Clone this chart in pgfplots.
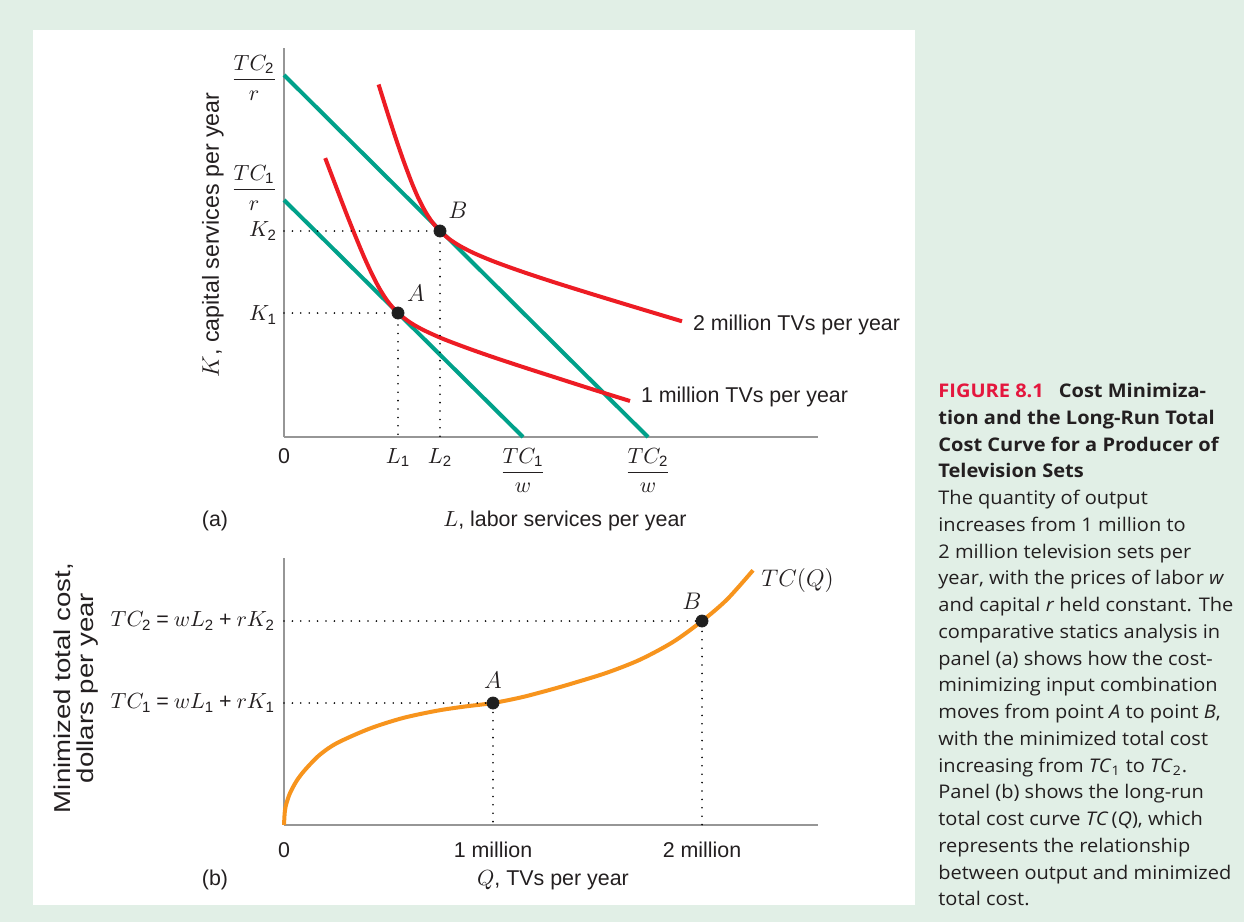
\documentclass[border=0pt]{standalone}
\usepackage{fontspec}
\setmainfont{Liberation Sans}
\newfontfamily\capfont[FakeStretch=1.065]{Open Sans}
\usepackage{amsmath}
\usepackage{graphicx}
\usepackage{pgfplots}
\pgfplotsset{compat=1.18}
\definecolor{bg}{RGB}{225,239,230}
\definecolor{tealline}{RGB}{0,161,138}
\definecolor{redc}{RGB}{237,28,36}
\definecolor{orangec}{RGB}{247,148,29}
\definecolor{axgray}{RGB}{150,150,150}
\definecolor{figred}{RGB}{228,23,62}
\definecolor{txt}{RGB}{35,31,32}
\pgfplotsset{econ/.style={scale only axis, axis lines=left,
  axis line style={-, draw=axgray, line width=1.4pt},
  major tick length=0pt, clip=false,
  tick label style={font=\fontsize{10.7}{13}\selectfont, text=txt}}}
\tikzset{dots/.style={black, line width=0.9pt, dash pattern=on 0pt off 4.2pt, line cap=round}}
\newcommand{\s}[1]{\text{#1}}
\begin{document}
\begin{tikzpicture}[font=\fontsize{10.7}{13}\selectfont, text=txt]
\fill[bg] (0,0) rectangle (622pt,-461pt);
\fill[white] (16.5pt,-15pt) rectangle (457.5pt,-452.5pt);

% panel (a)
\begin{axis}[econ, at={(142pt,-218.5pt)}, anchor=south west,
  width=267pt, height=194.5pt, xmin=0, xmax=534, ymin=0, ymax=389,
  xtick={0,114,156,239,364},
  xticklabels={0,$L_{\s{1}}$,$L_{\s{2}}$,$\dfrac{TC_{\s{1}}}{w}$,$\dfrac{TC_{\s{2}}}{w}$},
  ytick={122,206,249,359},
  yticklabels={$K_{\s{1}}$,$K_{\s{2}}$,$\dfrac{TC_{\s{1}}}{r}$,$\dfrac{TC_{\s{2}}}{r}$},
  xticklabel style={yshift=-2pt}]
\addplot[tealline, line width=2pt] coordinates {(0,237)(239,0)};
\addplot[tealline, line width=2pt] coordinates {(0,362)(364,0)};
% isoquant, 1 million
\addplot[redc, line width=2pt, smooth] coordinates {(41.2,278.9)(53.3,247.1)(63.1,221.6)(72.4,198.4)(80.8,178.4)(88.4,162.0)(95.7,148.1)(104.0,135.3)(114,124)(125.9,114.7)(139.4,107.0)(158.9,98.2)(184.5,88.5)(210.8,79.3)(242.6,68.8)(274.7,58.5)(309.0,47.5)(346,36)};
% isoquant, 2 million
\addplot[redc, line width=2pt, smooth] coordinates {(94.6,352.5)(103.7,323.5)(112.4,296.8)(119.7,275.7)(127.4,255.2)(133.7,240.3)(140.9,226.2)(148.1,215.1)(156,206)(165.1,198.1)(176.2,190.9)(190.3,183.7)(210.2,175.4)(236.2,166.0)(268.1,155.4)(305.8,143.6)(349.1,130.4)(398,115.7)};
\addplot[dots] coordinates {(0,124)(114,124)(114,0)};
\addplot[dots] coordinates {(0,206)(156,206)(156,0)};
\addplot[only marks, mark=*, mark size=3pt, black!88] coordinates {(114,124)(156,206)};
\node at (axis cs:132,144) {\large$A$};
\node at (axis cs:174,227) {\large$B$};
\node[anchor=west] at (axis cs:350,40) {1 million TVs per year};
\node[anchor=west] at (axis cs:402,112) {2 million TVs per year};
\end{axis}

% panel (b)
\begin{axis}[econ, at={(142pt,-412.5pt)}, anchor=south west,
  width=267pt, height=133.5pt, xmin=0, xmax=2.555, ymin=0, ymax=267,
  xtick={0,1,2}, xticklabels={0,1 million,2 million},
  ytick={122,204},
  yticklabels={$TC_{\s{1}}\mathbin{\s{=}}wL_{\s{1}}\mathbin{\s{+}}rK_{\s{1}}$,$TC_{\s{2}}\mathbin{\s{=}}wL_{\s{2}}\mathbin{\s{+}}rK_{\s{2}}$},
  xticklabel style={yshift=-5pt}, yticklabel style={xshift=-1pt}]
\addplot[orangec, line width=2pt, smooth] coordinates {(0,0)(0.004,13.6)(0.012,21.8)(0.029,32)(0.06,44)(0.1,55)(0.17,70)(0.254,82)(0.411,96.5)(0.569,107)(0.732,114.3)(0.866,118.5)(1,122)(1.136,127.7)(1.273,135.2)(1.383,141.8)(1.545,152.3)(1.703,165.3)(1.861,183)(2,204)(2.12,225.6)(2.244,254.7)};
\addplot[dots] coordinates {(0,122)(1,122)(1,0)};
\addplot[dots] coordinates {(0,204)(2,204)(2,0)};
\addplot[only marks, mark=*, mark size=3pt, black!88] coordinates {(1,122)(2,204)};
\node at (axis cs:1,145) {\large$A$};
\node at (axis cs:1.952,224) {\large$B$};
\node[anchor=west, font=\fontsize{11.5}{13}\selectfont] at (axis cs:2.25,245) {$TC(Q)$};
\end{axis}

% labels
\node[rotate=90, font=\fontsize{11.6}{13}\selectfont] at (106.5pt,-117.5pt) {$K$, capital services per year};
\node at (282.5pt,-260.5pt) {$L$, labor services per year};
\node at (107.5pt,-260.5pt) {(a)};
\node[rotate=90, align=center, font=\fontsize{11.5}{11.8}\selectfont] at (38pt,-344pt) {\scalebox{1.2}[1]{Minimized total cost,}\\\scalebox{1.2}[1]{dollars per year}};
\node at (276.5pt,-440pt) {$Q$, TVs per year};
\node at (107.5pt,-440pt) {(b)};

% caption
\node[anchor=north west, inner sep=0pt, align=left, text=txt,
  font=\capfont\fontsize{9.4}{13.37}\selectfont] at (469pt,-191.5pt) {%
{\color{figred}\bfseries FIGURE 8.1}\hspace{0.8em}{\bfseries Cost Minimiza-}\\
{\bfseries tion and the Long-Run Total}\\
{\bfseries Cost Curve for a Producer of}\\
{\bfseries Television Sets}\\
The quantity of output\\
increases from 1 million to\\
2 million television sets per\\
year, with the prices of labor \textit{w}\\
and capital \textit{r} held constant. The\\
comparative statics analysis in\\
panel (a) shows how the cost-\\
minimizing input combination\\
moves from point \textit{A} to point \textit{B},\\
with the minimized total cost\\
increasing from \textit{TC}\textsubscript{1} to \textit{TC}\textsubscript{2}.\\
Panel (b) shows the long-run\\
total cost curve \textit{TC}\,(\textit{Q}), which\\
represents the relationship\\
between output and minimized\\
total cost.};

\pgfresetboundingbox
\path (0,0) rectangle (622pt,-461pt);
\end{tikzpicture}
\end{document}
